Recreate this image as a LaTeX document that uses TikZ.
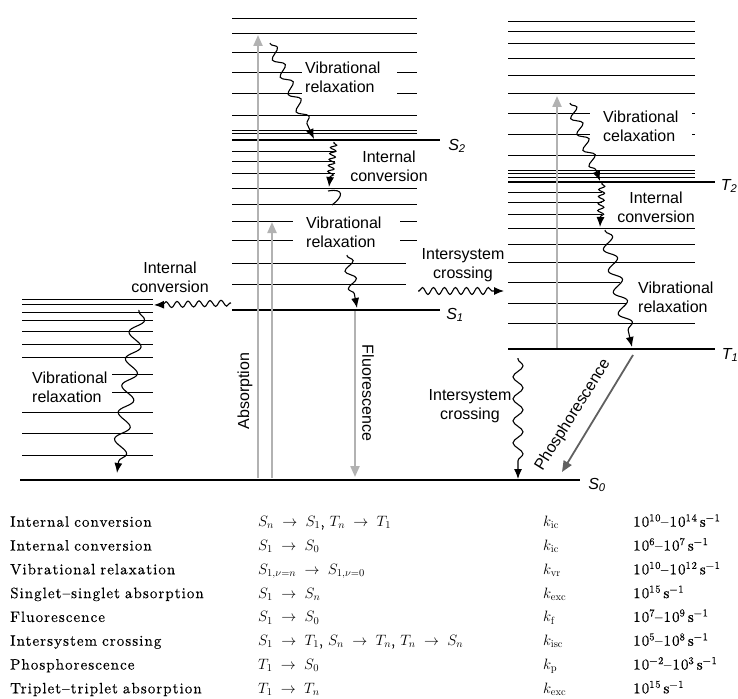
\documentclass[tikz,border=0pt]{standalone}
\usepackage{fix-cm}
\usepackage{fontspec}
\newfontfamily\labelfont{Liberation Sans}
\newfontfamily\tablefont{lmroman10-regular}[Extension=.otf,LetterSpace=7,FakeBold=0.3]
\usetikzlibrary{decorations.pathmorphing,arrows.meta,matrix}
\definecolor{absgray}{RGB}{178,178,178}
\definecolor{phosgray}{RGB}{96,96,96}
\newcommand\tto{\mathrel{\;\rightarrow\;}}
\def\RateTable{
    \matrix (rates)
    [matrix of nodes,
    ampersand replacement=\&,
    anchor=north west,
    inner sep=0pt,
    column sep={0pt},
    row sep={0pt},
    nodes={inner sep=0pt, anchor=base west, text height=17pt, text depth=6.8pt, align=left,
      font=\tablefont\fontsize{15}{18}\selectfont},
    column 1/.style={nodes={text width=248pt}},
    column 2/.style={nodes={text width=285pt}},
    column 3/.style={nodes={text width=90pt}} ]
    at (10,509.5)
    {
     Internal conversion \& $S_n\tto S_1$, $T_n\tto T_1$ \& $k_\mathrm{ic}$ \& 10\textsuperscript{10}–10\textsuperscript{14}\,s\textsuperscript{−1} \\
     Internal conversion \& $S_1\tto S_0$ \& $k_\mathrm{ic}$ \& 10\textsuperscript{6}–10\textsuperscript{7}\,s\textsuperscript{−1} \\
     Vibrational relaxation \& $S_{1,\nu=n}\tto S_{1,\nu=0}$ \& $k_\mathrm{vr}$ \& 10\textsuperscript{10}–10\textsuperscript{12}\,s\textsuperscript{−1} \\
     Singlet–singlet absorption \& $S_1\tto S_n$ \& $k_\mathrm{exc}$ \& 10\textsuperscript{15}\,s\textsuperscript{−1} \\
     Fluorescence \& $S_1\tto S_0$ \& $k_\mathrm{f}$ \& 10\textsuperscript{7}–10\textsuperscript{9}\,s\textsuperscript{−1} \\
     Intersystem crossing \& $S_1\tto T_1$, $S_n\tto T_n$, $T_n\tto S_n$ \& $k_\mathrm{isc}$ \& 10\textsuperscript{5}–10\textsuperscript{8}\,s\textsuperscript{−1} \\
     Phosphorescence \& $T_1\tto S_0$ \& $k_\mathrm{p}$ \& 10\textsuperscript{−2}–10\textsuperscript{3}\,s\textsuperscript{−1} \\
     Triplet–triplet absorption \& $T_1\tto T_n$ \& $k_\mathrm{exc}$ \& 10\textsuperscript{15}\,s\textsuperscript{−1} \\
    };
}
\begin{document}
\begin{tikzpicture}[x=1pt,y=-1pt,
    lvl/.style={line width=0.9pt},
    mainlvl/.style={line width=2.2pt},
    lbl/.style={font=\labelfont\fontsize{16}{19}\selectfont,align=center,inner sep=0pt},
    lvlname/.style={font=\labelfont\fontsize{16}{19}\selectfont\itshape,inner sep=0pt},
    wavy/.style 2 args={line width=1.1pt,-{Latex[length=10pt,width=8pt]},decorate,
      decoration={snake,amplitude=#1,segment length=#2,pre length=1pt,post length=8pt}},
    radiative/.style={line width=2.2pt,absgray,-{Triangle[length=11pt,width=9pt]}} ]
    \useasboundingbox (0,0) rectangle (738,698);

    % singlet manifold
    \foreach \y in {18,33,52,115,130,133,188,204}
      \draw[lvl] (232,\y) -- (417,\y);
    \foreach \y in {72,93} {
      \draw[lvl] (232,\y) -- (302,\y);
      \draw[lvl] (397,\y) -- (417,\y);}
    \foreach \y in {151,161,173}
      \draw[lvl] (232,\y) -- (335,\y);
    \foreach \y in {221,240} {
      \draw[lvl] (232,\y) -- (293,\y);
      \draw[lvl] (400,\y) -- (417,\y);}
    \foreach \y in {263,284}
      \draw[lvl] (232,\y) -- (406,\y);
    \draw[line width=1.4pt] (232,140) -- (440,140);
    \draw[mainlvl] (232,310) -- (440,310);

    % triplet manifold
    \foreach \y in {21,31,43,58,75,93,155,170,173.5,177,228,244,262,323}
      \draw[lvl] (508,\y) -- (695,\y);
    \foreach \y in {113,134} {
      \draw[lvl] (508,\y) -- (590,\y);
      \draw[lvl] (692,\y) -- (695,\y);}
    \foreach \y in {192,202,214}
      \draw[lvl] (508,\y) -- (602,\y);
    \draw[lvl] (508,282) -- (620,282);
    \draw[lvl] (508,303) -- (627,303);
    \draw[mainlvl] (508,182) -- (715,182);
    \draw[mainlvl] (508,349) -- (715,349);

    % ground state manifold
    \foreach \y in {299,304,312,320,331,344,357,412,433,455}
      \draw[lvl] (22,\y) -- (153,\y);
    \foreach \y in {374,392}
      \draw[lvl] (112,\y) -- (153,\y);
    \draw[mainlvl] (20,480) -- (580,480);

    % level names
    \node[lvlname] (S2) at (457,146) {S\textsubscript{2}};
    \node[lvlname] (S1) at (455,315) {S\textsubscript{1}};
    \node[lvlname] (T2) at (729,186) {T\textsubscript{2}};
    \node[lvlname] (T1) at (730,355) {T\textsubscript{1}};
    \node[lvlname] (S0) at (597,485) {S\textsubscript{0}};

    % end points of the transitions
    \coordinate (absA) at (258,478);  \coordinate (absB) at (258,35);
    \coordinate (absC) at (272,478);  \coordinate (absD) at (272,222);
    \coordinate (flA) at (355,311);   \coordinate (flB) at (355,477);
    \coordinate (ttA) at (557,348);   \coordinate (ttB) at (557,96);
    \coordinate (vrSa) at (270,43);   \coordinate (vrSb) at (314,139);
    \coordinate (icSa) at (334,142);  \coordinate (icSb) at (329,187);
    \coordinate (kinkA) at (328,191); \coordinate (kinkB) at (332,205);
    \coordinate (vrSc) at (347,255);  \coordinate (vrSd) at (357,308);
    \coordinate (iscA) at (418,291);  \coordinate (iscB) at (504,291);
    \coordinate (icLa) at (231,303);  \coordinate (icLb) at (154,305);
    \coordinate (vrLa) at (139,310);  \coordinate (vrLb) at (117,473);
    \coordinate (vrTa) at (570,103);  \coordinate (vrTb) at (600,181);
    \coordinate (icTa) at (602,183);  \coordinate (icTb) at (600,227);
    \coordinate (vrTc) at (605,230);  \coordinate (vrTd) at (632,347);
    \coordinate (iscC) at (518,358);  \coordinate (iscD) at (518,479);
    \coordinate (phA) at (633,355);   \coordinate (phB) at (562,472);

    % radiative transitions
    \draw[radiative] (absA) -- (absB);
    \draw[radiative] (absC) -- (absD);
    \draw[radiative] (flA) -- (flB);
    \draw[radiative] (ttA) -- (ttB);
    \draw[radiative,phosgray,line width=1.8pt] (phA) -- (phB);

    % non-radiative transitions
    \draw[wavy={5pt}{19pt}] (vrSa) -- (vrSb);
    \draw[wavy={3pt}{6pt}] (icSa) -- (icSb);
    \draw[line width=1.1pt] (kinkA) .. controls (345,188) and (343,197) .. (kinkB);
    \draw[wavy={5pt}{18pt}] (vrSc) -- (vrSd);
    \draw[wavy={3.5pt}{11pt}] (iscA) -- (iscB);
    \draw[wavy={3pt}{11pt}] (icLa) -- (icLb);
    \draw[wavy={7pt}{27pt}] (vrLa) -- (vrLb);
    \draw[wavy={5pt}{17pt}] (vrTa) -- (vrTb);
    \draw[wavy={3pt}{7pt}] (icTa) -- (icTb);
    \draw[wavy={6pt}{22pt}] (vrTc) -- (vrTd);
    \draw[wavy={5pt}{22pt}] (iscC) -- (iscD);

    % labels
    \node[lbl,anchor=west,align=left] (vrS2) at (305,77) {Vibrational\\relaxation};
    \node[lbl] (icS2) at (389,166) {Internal\\conversion};
    \node[lbl,anchor=west,align=left] (vrS1) at (306,232) {Vibrational\\relaxation};
    \node[lbl] (iscS) at (463,265) {Intersystem\\crossing};
    \node[lbl] (icL) at (170,277) {Internal\\conversion};
    \node[lbl,anchor=west,align=left] (vrL) at (32,387) {Vibrational\\relaxation};
    \node[lbl,anchor=west,align=left] (vrT2) at (603,126) {Vibrational\\celaxation};
    \node[lbl] (icT2) at (656,207) {Internal\\conversion};
    \node[lbl,anchor=west,align=left] (vrT1) at (638,297) {Vibrational\\relaxation};
    \node[lbl] (iscT) at (470,406) {Intersystem\\crossing};
    \node[lbl,rotate=90] (absorb) at (245,391) {Absorption};
    \node[lbl,rotate=-90] (fluor) at (368,393) {Fluorescence};
    \node[lbl,rotate=58] (phos) at (573,415) {Phosphorescence};

    \RateTable
\end{tikzpicture}
\end{document}
